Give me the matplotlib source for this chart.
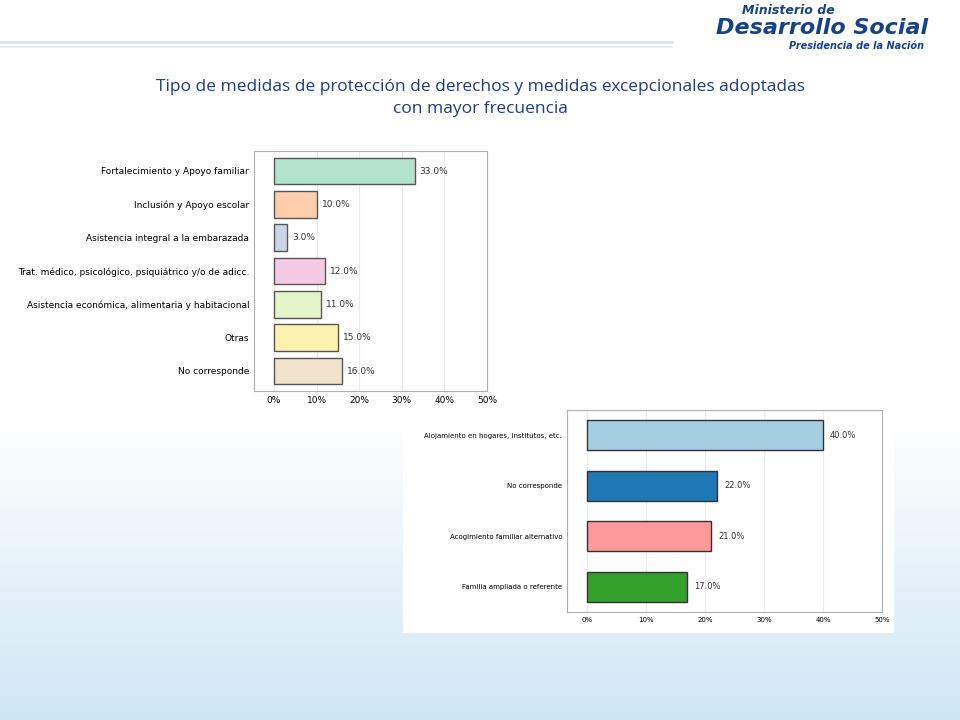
import numpy as np
import matplotlib.pyplot as plt
from matplotlib.patches import Rectangle

# data
top_labels = ["Fortalecimiento y Apoyo familiar", "Inclusión y Apoyo escolar",
              "Asistencia integral a la embarazada",
              "Trat. médico, psicológico, psiquiátrico y/o de adicc.",
              "Asistencia económica, alimentaria y habitacional", "Otras", "No corresponde"]
top_values = [33, 10, 3, 12, 11, 15, 16]
top_colors = ["#b3e2cd", "#fdcdac", "#cbd5e8", "#f4cae4", "#e6f5c9", "#fff2ae", "#f1e2cc"]

bot_labels = ["Alojamiento en hogares, institutos, etc.", "No corresponde",
              "Acogimiento familiar alternativo", "Familia ampliada o referente"]
bot_values = [40, 22, 21, 17]
bot_colors = ["#a6cee3", "#1f78b4", "#fb9a99", "#33a02c"]
ticks = [0, 10, 20, 30, 40, 50]

fig = plt.figure(figsize=(9.6, 7.2), dpi=100)

# background gradient
bg = fig.add_axes([0, 0, 1, 1])
grad = np.linspace(0, 1, 200)[:, None] ** 2
bg.imshow(grad, aspect="auto", cmap=plt.matplotlib.colors.LinearSegmentedColormap.from_list(
    "b", ["#ffffff", "#ffffff", "#e3f1f9", "#cfe7f4"]), extent=[0, 1, 0, 1], origin="upper")
bg.add_patch(Rectangle((0, 1 - 400 / 720), 500 / 960, 260 / 720, color="white"))
bg.add_patch(Rectangle((403 / 960, 1 - 632 / 720), 490 / 960, 234 / 720, color="white"))
bg.axhline(1 - 42 / 720, xmin=0, xmax=0.7, color="#d6e6f0", lw=2)
bg.axhline(1 - 47 / 720, xmin=0, xmax=0.7, color="#e4eef5", lw=1.5)
bg.set_xlim(0, 1)
bg.set_ylim(0, 1)
bg.axis("off")

fig.text(0.5, 1 - 98 / 720, "Tipo de medidas de protección de derechos y medidas excepcionales adoptadas\ncon mayor frecuencia",
         ha="center", va="center", color="#1f3b8c", fontsize=12.5, linespacing=1.5, family="Open Sans")
fig.text(0.87, 1 - 10 / 720, "Ministerio de", ha="right", va="center", color="#17418c",
         fontsize=9, fontweight="bold", style="italic")
fig.text(0.967, 1 - 28 / 720, "Desarrollo Social", ha="right", va="center", color="#17418c",
         fontsize=16, fontweight="bold", style="italic")
fig.text(0.963, 1 - 46 / 720, "Presidencia de la Nación", ha="right", va="center", color="#17418c",
         fontsize=7, fontweight="bold", style="italic")


def draw(ax, labels, values, colors, fs, lblfs, h, edge):
    y = np.arange(len(labels))
    ax.barh(y, values, height=h, color=colors, edgecolor=edge, lw=1, zorder=3)
    for yi, v in zip(y, values):
        ax.text(v + 1.2, yi, "%.1f%%" % v, va="center", fontsize=lblfs, color="#333333")
    ax.set_yticks(y)
    ax.set_yticklabels(labels, fontsize=fs)
    ax.invert_yaxis()
    ax.set_xticks(ticks)
    ax.set_xticklabels(["%d%%" % t for t in ticks], fontsize=fs)
    ax.tick_params(length=0)
    ax.grid(axis="x", color="#ebebeb", zorder=0)
    for s in ax.spines.values():
        s.set_color("#b0b0b0")


ax1 = fig.add_axes([254 / 960, 1 - 391 / 720, 233 / 960, 240 / 720])
draw(ax1, top_labels, top_values, top_colors, 6.5, 6.5, 0.8, "#555555")
ax1.set_xlim(-4.7, 50)
ax1.set_ylim(6.6, -0.6)

ax2 = fig.add_axes([567 / 960, 1 - 612 / 720, 315 / 960, 202 / 720])
draw(ax2, bot_labels, bot_values, bot_colors, 5, 6, 0.6, "#333333")
ax2.set_xlim(-3.4, 50)
ax2.set_ylim(3.5, -0.5)

fig.savefig("out.png", dpi=100)
